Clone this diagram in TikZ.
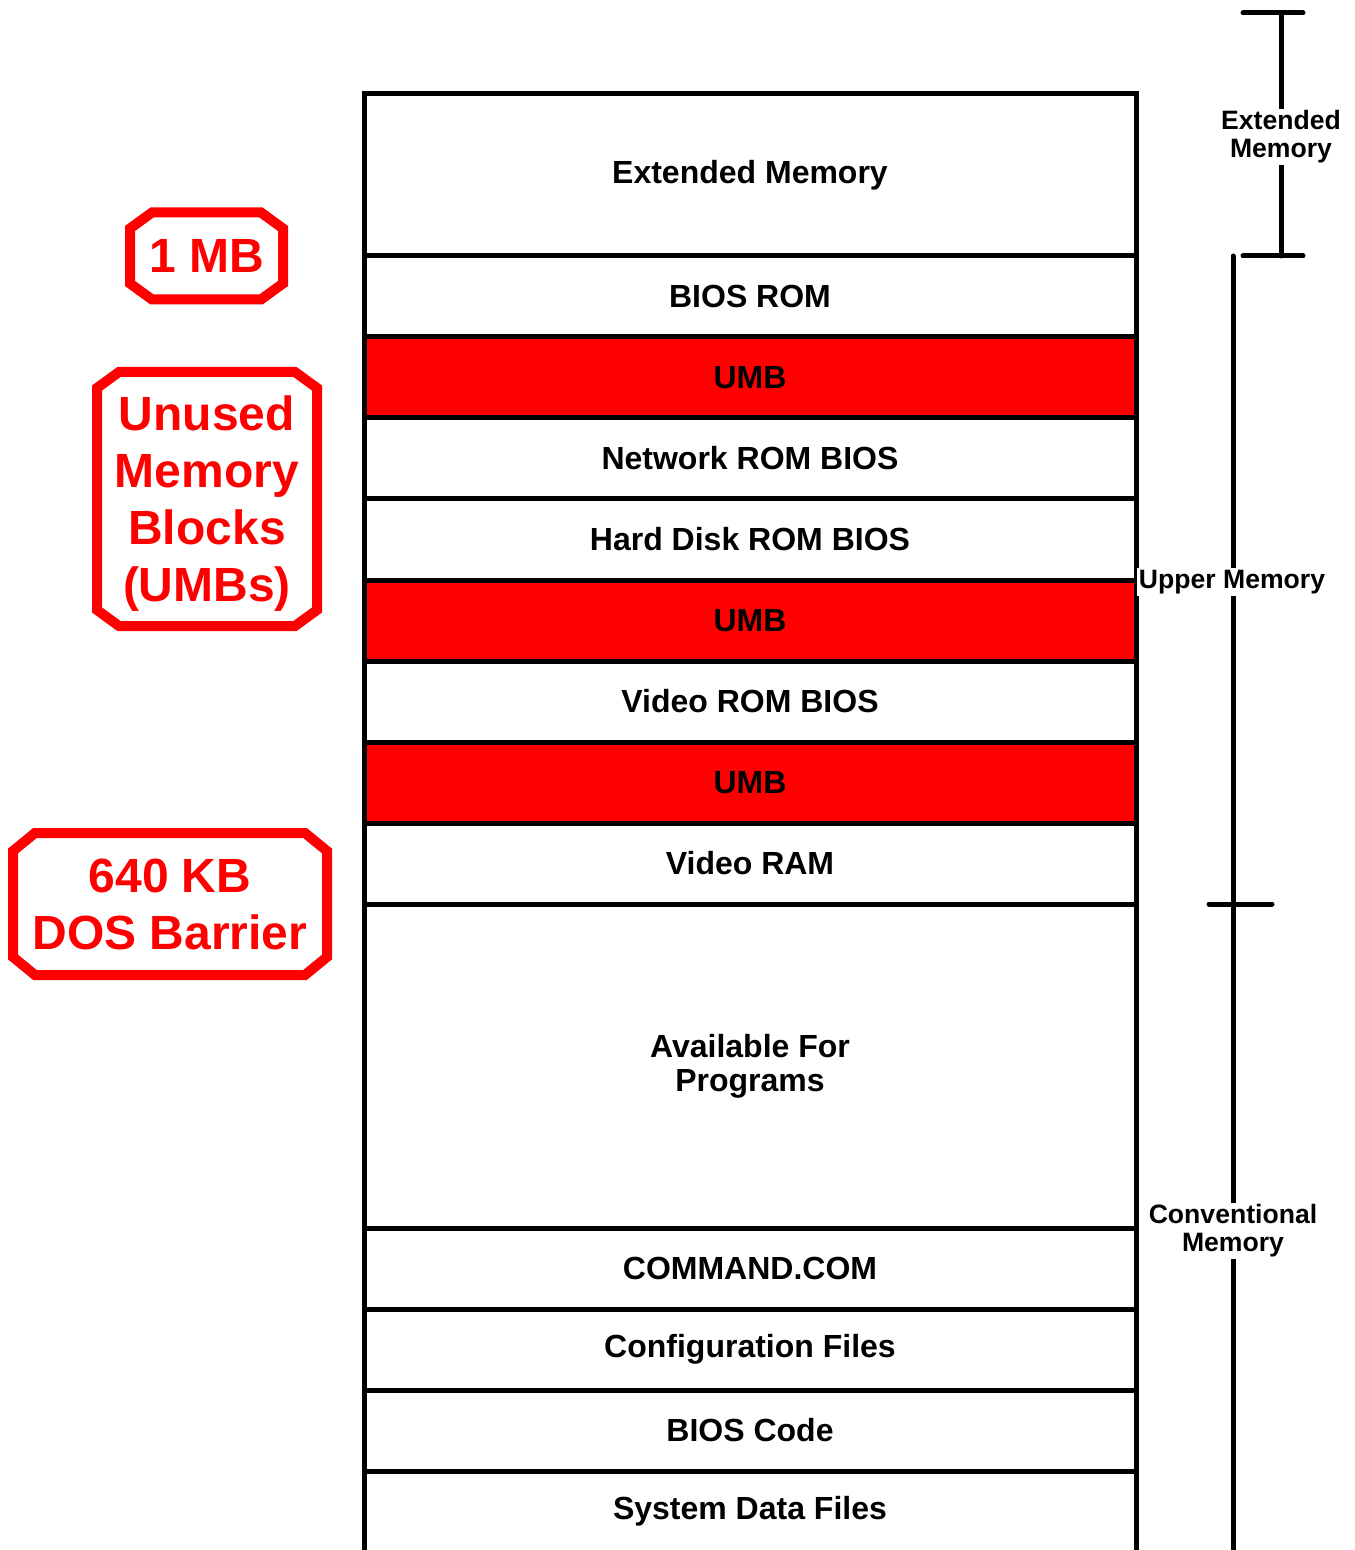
\documentclass[tikz,border=0pt]{standalone}
\usepackage{fontspec}
\setmainfont{Liberation Sans}
\definecolor{umbred}{HTML}{FF0000}

% Octagonal frame around a named node: #1 node, #2 horizontal cut, #3 vertical cut
\newcommand\octframe[3]{%
  \draw[octline] ([xshift=#2]#1.north west) -- ([xshift=-#2]#1.north east)
    -- ([yshift=-#3]#1.north east) -- ([yshift=#3]#1.south east)
    -- ([xshift=-#2]#1.south east) -- ([xshift=#2]#1.south west)
    -- ([yshift=#3]#1.south west) -- ([yshift=-#3]#1.north west) -- cycle;}

\begin{document}
\begin{tikzpicture}[x=0.5pt,y=-0.5pt,
  memrow/.style={draw=black, line width=2.5pt, fill=white, minimum width=386pt,
    inner sep=0pt, outer sep=0pt, anchor=north west, align=center,
    font=\bfseries\fontsize{16}{17}\selectfont},
  umbrow/.style={memrow, fill=umbred},
  bar/.style={line width=2.5pt, line cap=round},
  sidelabel/.style={fill=white, inner sep=1pt, align=center,
    font=\bfseries\fontsize{13.3}{14}\selectfont},
  redtag/.style={inner sep=0pt, outer sep=0pt, align=center, text=umbred,
    font=\bfseries\fontsize{24}{28.5}\selectfont},
  octline/.style={draw=umbred, line width=5pt}]

\useasboundingbox (0,0) rectangle (1354,1550);

% memory map column
\begin{scope}
\clip (0,0) rectangle (1354,1550);
\node[memrow, minimum height=81pt]   (ext)    at (364,94)   {Extended Memory};
\node[memrow, minimum height=40.5pt] (biosrom) at (364,256) {BIOS ROM};
\node[umbrow, minimum height=40.5pt] (umbA)   at (364,337)  {UMB};
\node[memrow, minimum height=40.5pt] (netrom) at (364,418)  {Network ROM BIOS};
\node[memrow, minimum height=40.5pt] (hdrom)  at (364,499)  {Hard Disk ROM BIOS};
\node[umbrow, minimum height=40.5pt] (umbB)   at (364,580)  {UMB};
\node[memrow, minimum height=40.5pt] (vidrom) at (364,661)  {Video ROM BIOS};
\node[umbrow, minimum height=40.5pt] (umbC)   at (364,742)  {UMB};
\node[memrow, minimum height=40.5pt] (vidram) at (364,823)  {Video RAM};
\node[memrow, minimum height=162pt]  (avail)  at (364,904)  {Available For\\Programs};
\node[memrow, minimum height=40.5pt] (cmdcom) at (364,1228) {COMMAND.COM};
\node[memrow, minimum height=40.5pt] (config) at (364,1309) {Configuration Files};
\node[memrow, minimum height=40.5pt] (bioscode) at (364,1390) {BIOS Code};
\node[memrow, minimum height=40.5pt] (sysdata) at (364,1471) {System Data Files};

% range brackets on the right
\coordinate (extTop) at (1281,13);
\coordinate (extBot) at (1281,256);
\coordinate (extCapTL) at (1243,13);
\coordinate (extCapTR) at (1303,13);
\coordinate (extCapBL) at (1243,256);
\coordinate (extCapBR) at (1303,256);
\draw[bar] (extTop) -- (extBot);
\draw[bar] (extCapTL) -- (extCapTR);
\draw[bar] (extCapBL) -- (extCapBR);

\coordinate (lowTop) at (1233,256);
\coordinate (lowBot) at (1233,1570);
\coordinate (tickL) at (1209,904);
\coordinate (tickR) at (1272,904);
\draw[bar] (lowTop) -- (lowBot);
\draw[bar] (tickL) -- (tickR);

\node[sidelabel] (extLbl) at (1281,137) {Extended\\Memory};
\node[sidelabel] (upLbl)  at (1232,582) {Upper Memory};
\node[sidelabel] (convLbl) at (1233,1231) {Conventional\\Memory};
\end{scope}

% red call-out tags
\node[redtag, minimum width=76.5pt, minimum height=43.5pt] (oneMB) at (206.5,256) {1 MB};
\octframe{oneMB}{11pt}{8pt}
\node[redtag, minimum width=110pt, minimum height=127pt] (umbTag) at (207,499) {};
\node[redtag] (umbText) at (207,503.5) {Unused\\Memory\\Blocks\\(UMBs)};
\octframe{umbTag}{11pt}{8pt}
\node[redtag, minimum width=157pt, minimum height=71pt] (dosTag) at (170,904) {640 KB\\DOS Barrier};
\octframe{dosTag}{11pt}{9pt}
\end{tikzpicture}
\end{document}
